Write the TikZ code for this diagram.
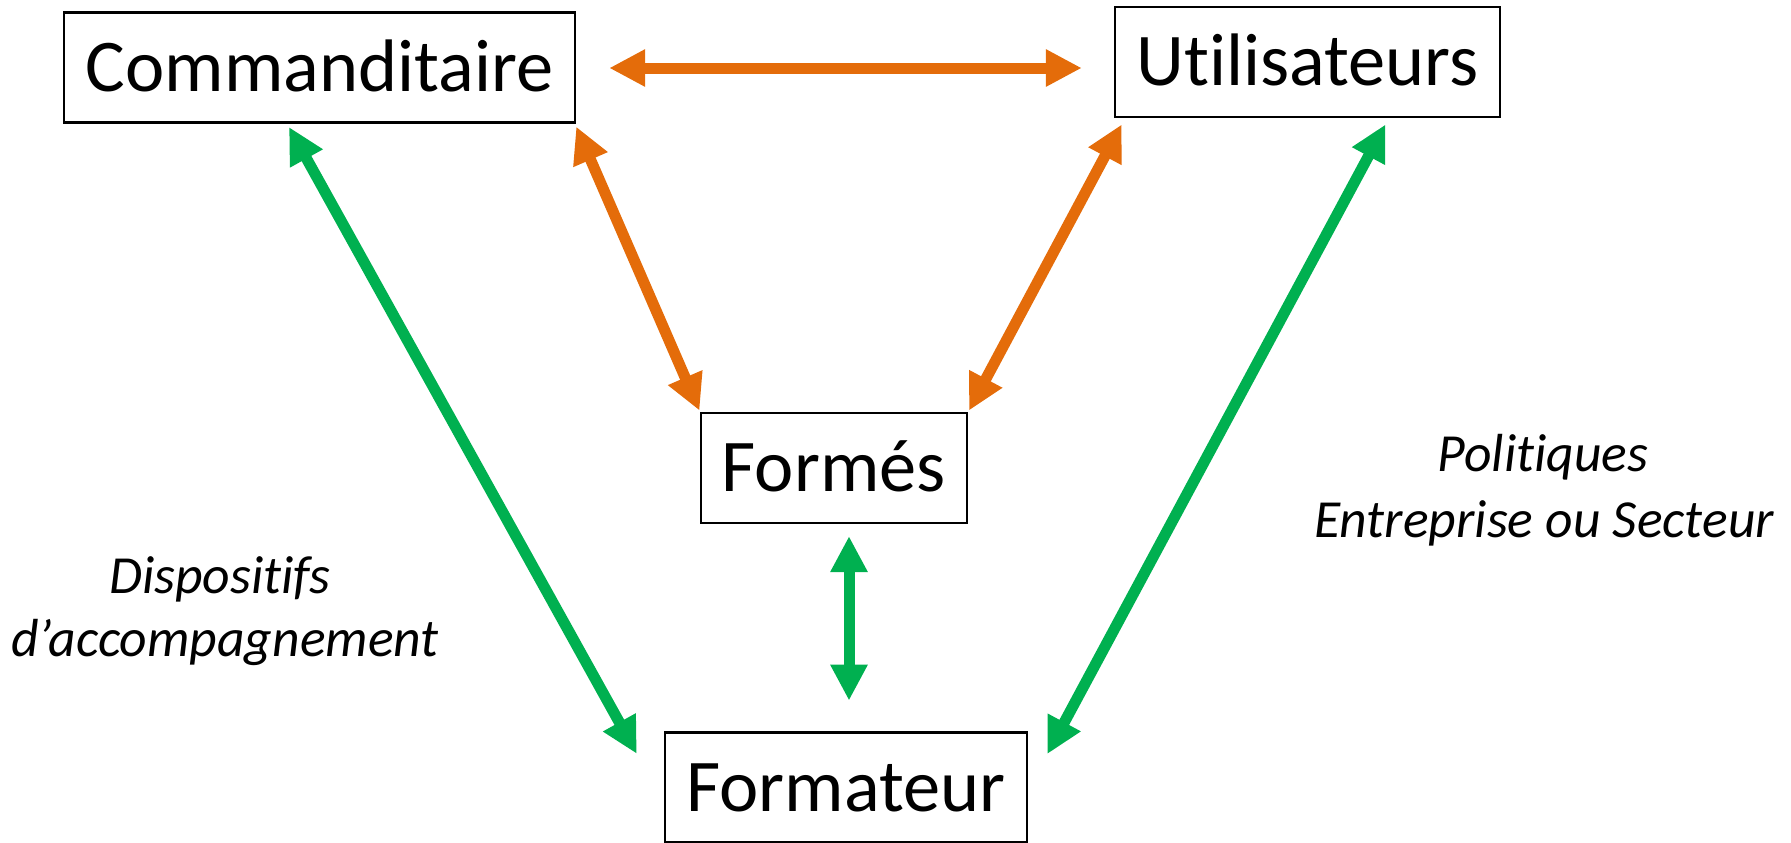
\documentclass[tikz,border=0pt]{standalone}
\usepackage{fontspec}
\setmainfont{Carlito}[Ligatures={NoCommon}]
\usetikzlibrary{arrows.meta,calc}
\definecolor{orng}{HTML}{E46C0A}
\definecolor{grn}{HTML}{00B050}
\begin{document}
\begin{tikzpicture}[x=0.5pt,y=-0.5pt,
  box/.style={draw, line width=1.2pt, inner sep=0pt, font=\fontsize{37.2}{44}\selectfont, text height=24pt, text depth=0pt, minimum height=55pt},
  lbl/.style={font=\fontsize{26.8}{32}\selectfont\itshape, anchor=base, inner sep=0pt},
  link/.style={line width=5.5pt, {Triangle[width=17.5pt,length=18pt]}-{Triangle[width=17.5pt,length=18pt]}},
]
\useasboundingbox (0,0) rectangle (1791,842);
\node[box, minimum width=255.5pt] (com) at (319.5,67.4) {Commanditaire};
\node[box, minimum width=192.5pt] (uti) at (1307.5,61.7) {Utilisateurs};
\node[box, minimum width=133pt] (form) at (833.7,467.8) {Formés};
\node[box, minimum width=181pt] (fmt) at (846,787.3) {Formateur};

\draw[link, orng] ($(com.east)+(33,0.6)$) -- ($(com.east -| uti.west)+(-32,0.6)$);
\draw[link, orng] ($(com.south east)+(0,3)$) -- ($(form.north west)+(0,-1)$);
\draw[link, orng] ($(uti.south west)+(8,6.5)$) -- ($(form.north east)+(1,-1)$);
\draw[link, grn] ($(com.south)+(-30.5,3.4)$) -- ($(fmt.north west)+(-27,22.7)$);
\draw[link, grn] ($(uti.south)+(78,6.5)$) -- ($(fmt.north east)+(19,23)$);
\draw[link, grn] ($(fmt.north)+(3,-195)$) -- ($(fmt.north)+(3,-30.5)$);

\node[lbl] (d1) at (220,593) {Dispositifs};
\node[lbl] (d2) at (225,656) {d’accompagnement};
\node[lbl] (p1) at (1543,471) {Politiques};
\node[lbl] (p2) at (1544,537) {Entreprise ou Secteur};
\end{tikzpicture}
\end{document}
